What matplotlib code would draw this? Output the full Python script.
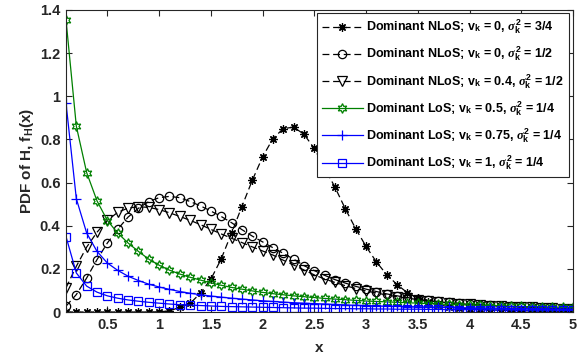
import numpy as np
import matplotlib
matplotlib.use("Agg")
import matplotlib.pyplot as plt

# Sample grid and PDF values for each channel configuration
x = np.round(np.linspace(0.1, 5.0, 50), 1)

nlos_v0_s34 = [0.000, 0.000, 0.000, 0.000, 0.000, 0.000, 0.000, 0.000, 0.000, 0.001,
               0.005, 0.022, 0.040, 0.088, 0.152, 0.246, 0.366, 0.489, 0.610, 0.719,
               0.804, 0.850, 0.857, 0.824, 0.758, 0.668, 0.578, 0.478, 0.386, 0.304,
               0.232, 0.173, 0.127, 0.089, 0.063, 0.045, 0.033, 0.025, 0.019, 0.015,
               0.012, 0.010, 0.008, 0.007, 0.006, 0.005, 0.004, 0.004, 0.003, 0.003]

nlos_v0_s12 = [0.027, 0.081, 0.158, 0.243, 0.320, 0.384, 0.440, 0.481, 0.512, 0.530,
               0.536, 0.530, 0.512, 0.492, 0.468, 0.443, 0.414, 0.382, 0.352, 0.325,
               0.298, 0.272, 0.245, 0.215, 0.192, 0.170, 0.150, 0.134, 0.119, 0.106,
               0.095, 0.084, 0.075, 0.067, 0.060, 0.054, 0.049, 0.045, 0.041, 0.037,
               0.034, 0.031, 0.028, 0.026, 0.024, 0.022, 0.020, 0.018, 0.016, 0.015]

nlos_v04_s12 = [0.112, 0.212, 0.301, 0.370, 0.425, 0.462, 0.482, 0.488, 0.485, 0.475,
                0.460, 0.443, 0.425, 0.405, 0.383, 0.362, 0.342, 0.322, 0.302, 0.283,
                0.264, 0.240, 0.218, 0.195, 0.172, 0.153, 0.137, 0.122, 0.109, 0.098,
                0.088, 0.079, 0.071, 0.064, 0.058, 0.052, 0.047, 0.043, 0.039, 0.035,
                0.032, 0.029, 0.027, 0.025, 0.023, 0.021, 0.019, 0.017, 0.016, 0.014]

los_v05_s14 = [1.355, 0.861, 0.646, 0.515, 0.424, 0.366, 0.320, 0.281, 0.245, 0.217,
               0.194, 0.176, 0.161, 0.148, 0.135, 0.124, 0.114, 0.106, 0.098, 0.091,
               0.085, 0.080, 0.075, 0.071, 0.067, 0.063, 0.060, 0.057, 0.054, 0.051,
               0.049, 0.047, 0.045, 0.043, 0.041, 0.039, 0.037, 0.035, 0.034, 0.032,
               0.031, 0.030, 0.028, 0.027, 0.026, 0.025, 0.024, 0.023, 0.022, 0.021]

los_v075_s14 = [0.969, 0.525, 0.366, 0.281, 0.227, 0.193, 0.166, 0.146, 0.129, 0.116,
                0.105, 0.095, 0.087, 0.080, 0.074, 0.069, 0.064, 0.060, 0.056, 0.052,
                0.049, 0.046, 0.043, 0.041, 0.039, 0.037, 0.035, 0.033, 0.031, 0.030,
                0.028, 0.027, 0.026, 0.025, 0.024, 0.023, 0.022, 0.021, 0.020, 0.019,
                0.018, 0.018, 0.017, 0.016, 0.016, 0.015, 0.015, 0.014, 0.014, 0.013]

los_v1_s14 = [0.350, 0.181, 0.120, 0.092, 0.075, 0.064, 0.056, 0.050, 0.045, 0.041,
              0.037, 0.034, 0.032, 0.030, 0.028, 0.026, 0.025, 0.024, 0.023, 0.022,
              0.021, 0.020, 0.019, 0.018, 0.018, 0.017, 0.016, 0.016, 0.015, 0.015,
              0.014, 0.014, 0.013, 0.013, 0.013, 0.012, 0.012, 0.011, 0.011, 0.011,
              0.010, 0.010, 0.010, 0.010, 0.009, 0.009, 0.009, 0.009, 0.008, 0.008]

labels = [
    r"Dominant NLoS; v$_{\mathbf{k}}$ = 0, $\sigma_{\mathbf{k}}^{\mathbf{2}}$ = 3/4",
    r"Dominant NLoS; v$_{\mathbf{k}}$ = 0, $\sigma_{\mathbf{k}}^{\mathbf{2}}$ = 1/2",
    r"Dominant NLoS; v$_{\mathbf{k}}$ = 0.4, $\sigma_{\mathbf{k}}^{\mathbf{2}}$ = 1/2",
    r"Dominant LoS; v$_{\mathbf{k}}$ = 0.5, $\sigma_{\mathbf{k}}^{\mathbf{2}}$ = 1/4",
    r"Dominant LoS; v$_{\mathbf{k}}$ = 0.75, $\sigma_{\mathbf{k}}^{\mathbf{2}}$ = 1/4",
    r"Dominant LoS; v$_{\mathbf{k}}$ = 1, $\sigma_{\mathbf{k}}^{\mathbf{2}}$ = 1/4",
]

xticks = [0.5, 1, 1.5, 2, 2.5, 3, 3.5, 4, 4.5, 5]
xticklabels = ["0.5", "1", "1.5", "2", "2.5", "3", "3.5", "4", "4.5", "5"]
yticks = [0, 0.2, 0.4, 0.6, 0.8, 1.0, 1.2, 1.4]
yticklabels = ["0", "0.2", "0.4", "0.6", "0.8", "1", "1.2", "1.4"]

plt.rcParams["font.family"] = ["Liberation Sans", "DejaVu Sans"]
plt.rcParams["font.weight"] = "bold"
plt.rcParams["mathtext.fontset"] = "custom"
plt.rcParams["mathtext.rm"] = "Liberation Sans:bold"
plt.rcParams["mathtext.bf"] = "Liberation Sans:bold"
plt.rcParams["mathtext.it"] = "Liberation Serif:italic:bold"

fig = plt.figure(figsize=(5.85, 3.57), dpi=100)
ax = fig.add_axes([0.1128, 0.126, 0.8667, 0.846])

axis_color = "#262626"
dash = (0, (5.5, 3))
star = (8, 2, 0)
hexagram = (6, 1, 0)

ax.plot(x, nlos_v0_s34, color="black", lw=0.9, linestyle=dash, marker=star,
        ms=6, mew=0.9, label=labels[0])
ax.plot(x, nlos_v0_s12, color="black", lw=0.9, linestyle=dash, marker="o",
        ms=6, mew=0.9, mfc="none", label=labels[1])
ax.plot(x, nlos_v04_s12, color="black", lw=0.9, linestyle=dash, marker="v",
        ms=6.5, mew=0.9, mfc="none", label=labels[2])
ax.plot(x, los_v05_s14, color="#008000", lw=0.9, linestyle="-", marker=hexagram,
        ms=7, mew=0.9, mfc="none", label=labels[3])
ax.plot(x, los_v075_s14, color="#0000ff", lw=0.9, linestyle="-", marker="+",
        ms=7, mew=0.9, label=labels[4])
ax.plot(x, los_v1_s14, color="#0000ff", lw=0.9, linestyle="-", marker="s",
        ms=5.5, mew=0.9, mfc="none", label=labels[5])

ax.set_xlim(0.1, 5)
ax.set_ylim(0, 1.4)
ax.set_xticks(xticks)
ax.set_xticklabels(xticklabels)
ax.set_yticks(yticks)
ax.set_yticklabels(yticklabels)

ax.tick_params(direction="in", length=4, width=0.8, colors=axis_color,
               labelsize=10.5, top=True, right=True, pad=4)
for lab in ax.get_xticklabels() + ax.get_yticklabels():
    lab.set_fontweight("bold")
for sp in ax.spines.values():
    sp.set_color(axis_color)
    sp.set_linewidth(0.8)

ax.set_xlabel("x", fontsize=11, fontweight="bold", color=axis_color, labelpad=7)
ax.set_ylabel(r"PDF of H, f$_{\mathbf{H}}$(x)", fontsize=11, fontweight="bold",
              color=axis_color, labelpad=3)

leg = ax.legend(loc="upper right", bbox_to_anchor=(0.992, 0.99),
                prop={"family": ["Liberation Sans", "DejaVu Sans"], "weight": "bold",
                      "size": 9.0},
                handlelength=3.3, handletextpad=0.25, labelspacing=0.72,
                borderpad=0.4, borderaxespad=0.0, fancybox=False, framealpha=1)
leg.get_frame().set_edgecolor(axis_color)
leg.get_frame().set_linewidth(0.8)

fig.savefig("out.png", dpi=100, facecolor="white")
